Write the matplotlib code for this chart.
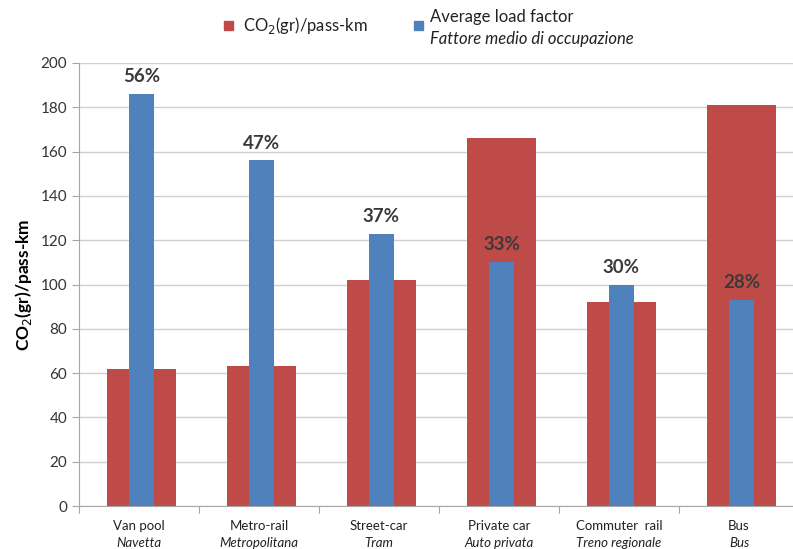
import matplotlib
matplotlib.use("Agg")
import matplotlib.pyplot as plt
from matplotlib.patches import Rectangle
import numpy as np

plt.rcParams['font.family'] = ['Lato', 'DejaVu Sans']

# data
modes_en = ['Van pool', 'Metro-rail', 'Street-car', 'Private car', 'Commuter  rail', 'Bus']
modes_it = ['Navetta', 'Metropolitana', 'Tram', 'Auto privata', 'Treno regionale', 'Bus']
co2 = [62, 63, 102, 166, 92, 181]
load_height = [186, 156, 123, 110, 100, 93]   # blue bars drawn on the CO2 axis
load_pct = ['56%', '47%', '37%', '33%', '30%', '28%']

RED = '#BE4B48'
BLUE = '#4F81BD'
GRID = '#D0D0D0'

fig = plt.figure(figsize=(7.93, 5.49), dpi=100)
ax = fig.add_axes([79 / 793, 1 - 506 / 549, 1 - 79 / 793, (506 - 63) / 549])

x = np.arange(len(co2))
ax.bar(x + 0.02, co2, width=0.58, color=RED, zorder=2)
ax.bar(x + 0.02, load_height, width=0.21, color=BLUE, zorder=3)

for xi, h, lab in zip(x, load_height, load_pct):
    ax.text(xi + 0.02, h + 4, lab, ha='center', va='bottom', fontsize=13.5,
            fontweight='bold', color='#3a3a3a', zorder=4)

ax.set_ylim(0, 200)
ax.set_xlim(-0.5, -0.5 + 714 / 120)
ax.set_yticks(range(0, 201, 20))
ax.tick_params(axis='y', labelsize=11, colors='#333333', length=5, color='#A6A6A6')
ax.yaxis.grid(True, color=GRID, linewidth=1, zorder=0)
ax.set_axisbelow(True)

# category boundary ticks, labels as text
ax.set_xticks(np.arange(len(co2)) - 0.5)
ax.set_xticklabels([])
ax.tick_params(axis='x', length=5, color='#A6A6A6')
for xi, en, it in zip(x, modes_en, modes_it):
    ax.text(xi, -0.032, en, transform=ax.get_xaxis_transform(), ha='center',
            va='top', fontsize=9.5, color='#222222')
    ax.text(xi, -0.070, it, transform=ax.get_xaxis_transform(), ha='center',
            va='top', fontsize=9.5, style='italic', color='#222222')

for s in ['top', 'right']:
    ax.spines[s].set_visible(False)
ax.spines['left'].set_color('#A6A6A6')
ax.spines['bottom'].set_color('#A6A6A6')

ax.set_ylabel('CO$_2$(gr)/pass-km', fontsize=12.5, fontweight='bold', labelpad=5)

# legend drawn by hand (second entry has an italic line)
fig.patches.append(Rectangle((224 / 793, 1 - 30 / 549), 9 / 793, 9 / 549,
                             transform=fig.transFigure, color=RED))
fig.text(243 / 793, 1 - 25 / 549, 'CO$_2$(gr)/pass-km', fontsize=12,
         va='center', color='#222222')
fig.patches.append(Rectangle((414 / 793, 1 - 30 / 549), 9 / 793, 9 / 549,
                             transform=fig.transFigure, color=BLUE))
fig.text(430 / 793, 1 - 17 / 549, 'Average load factor', fontsize=12,
         va='center', color='#222222')
fig.text(430 / 793, 1 - 39 / 549, 'Fattore medio di occupazione', fontsize=12,
         va='center', style='italic', color='#222222')

fig.savefig('out.png', dpi=100)
